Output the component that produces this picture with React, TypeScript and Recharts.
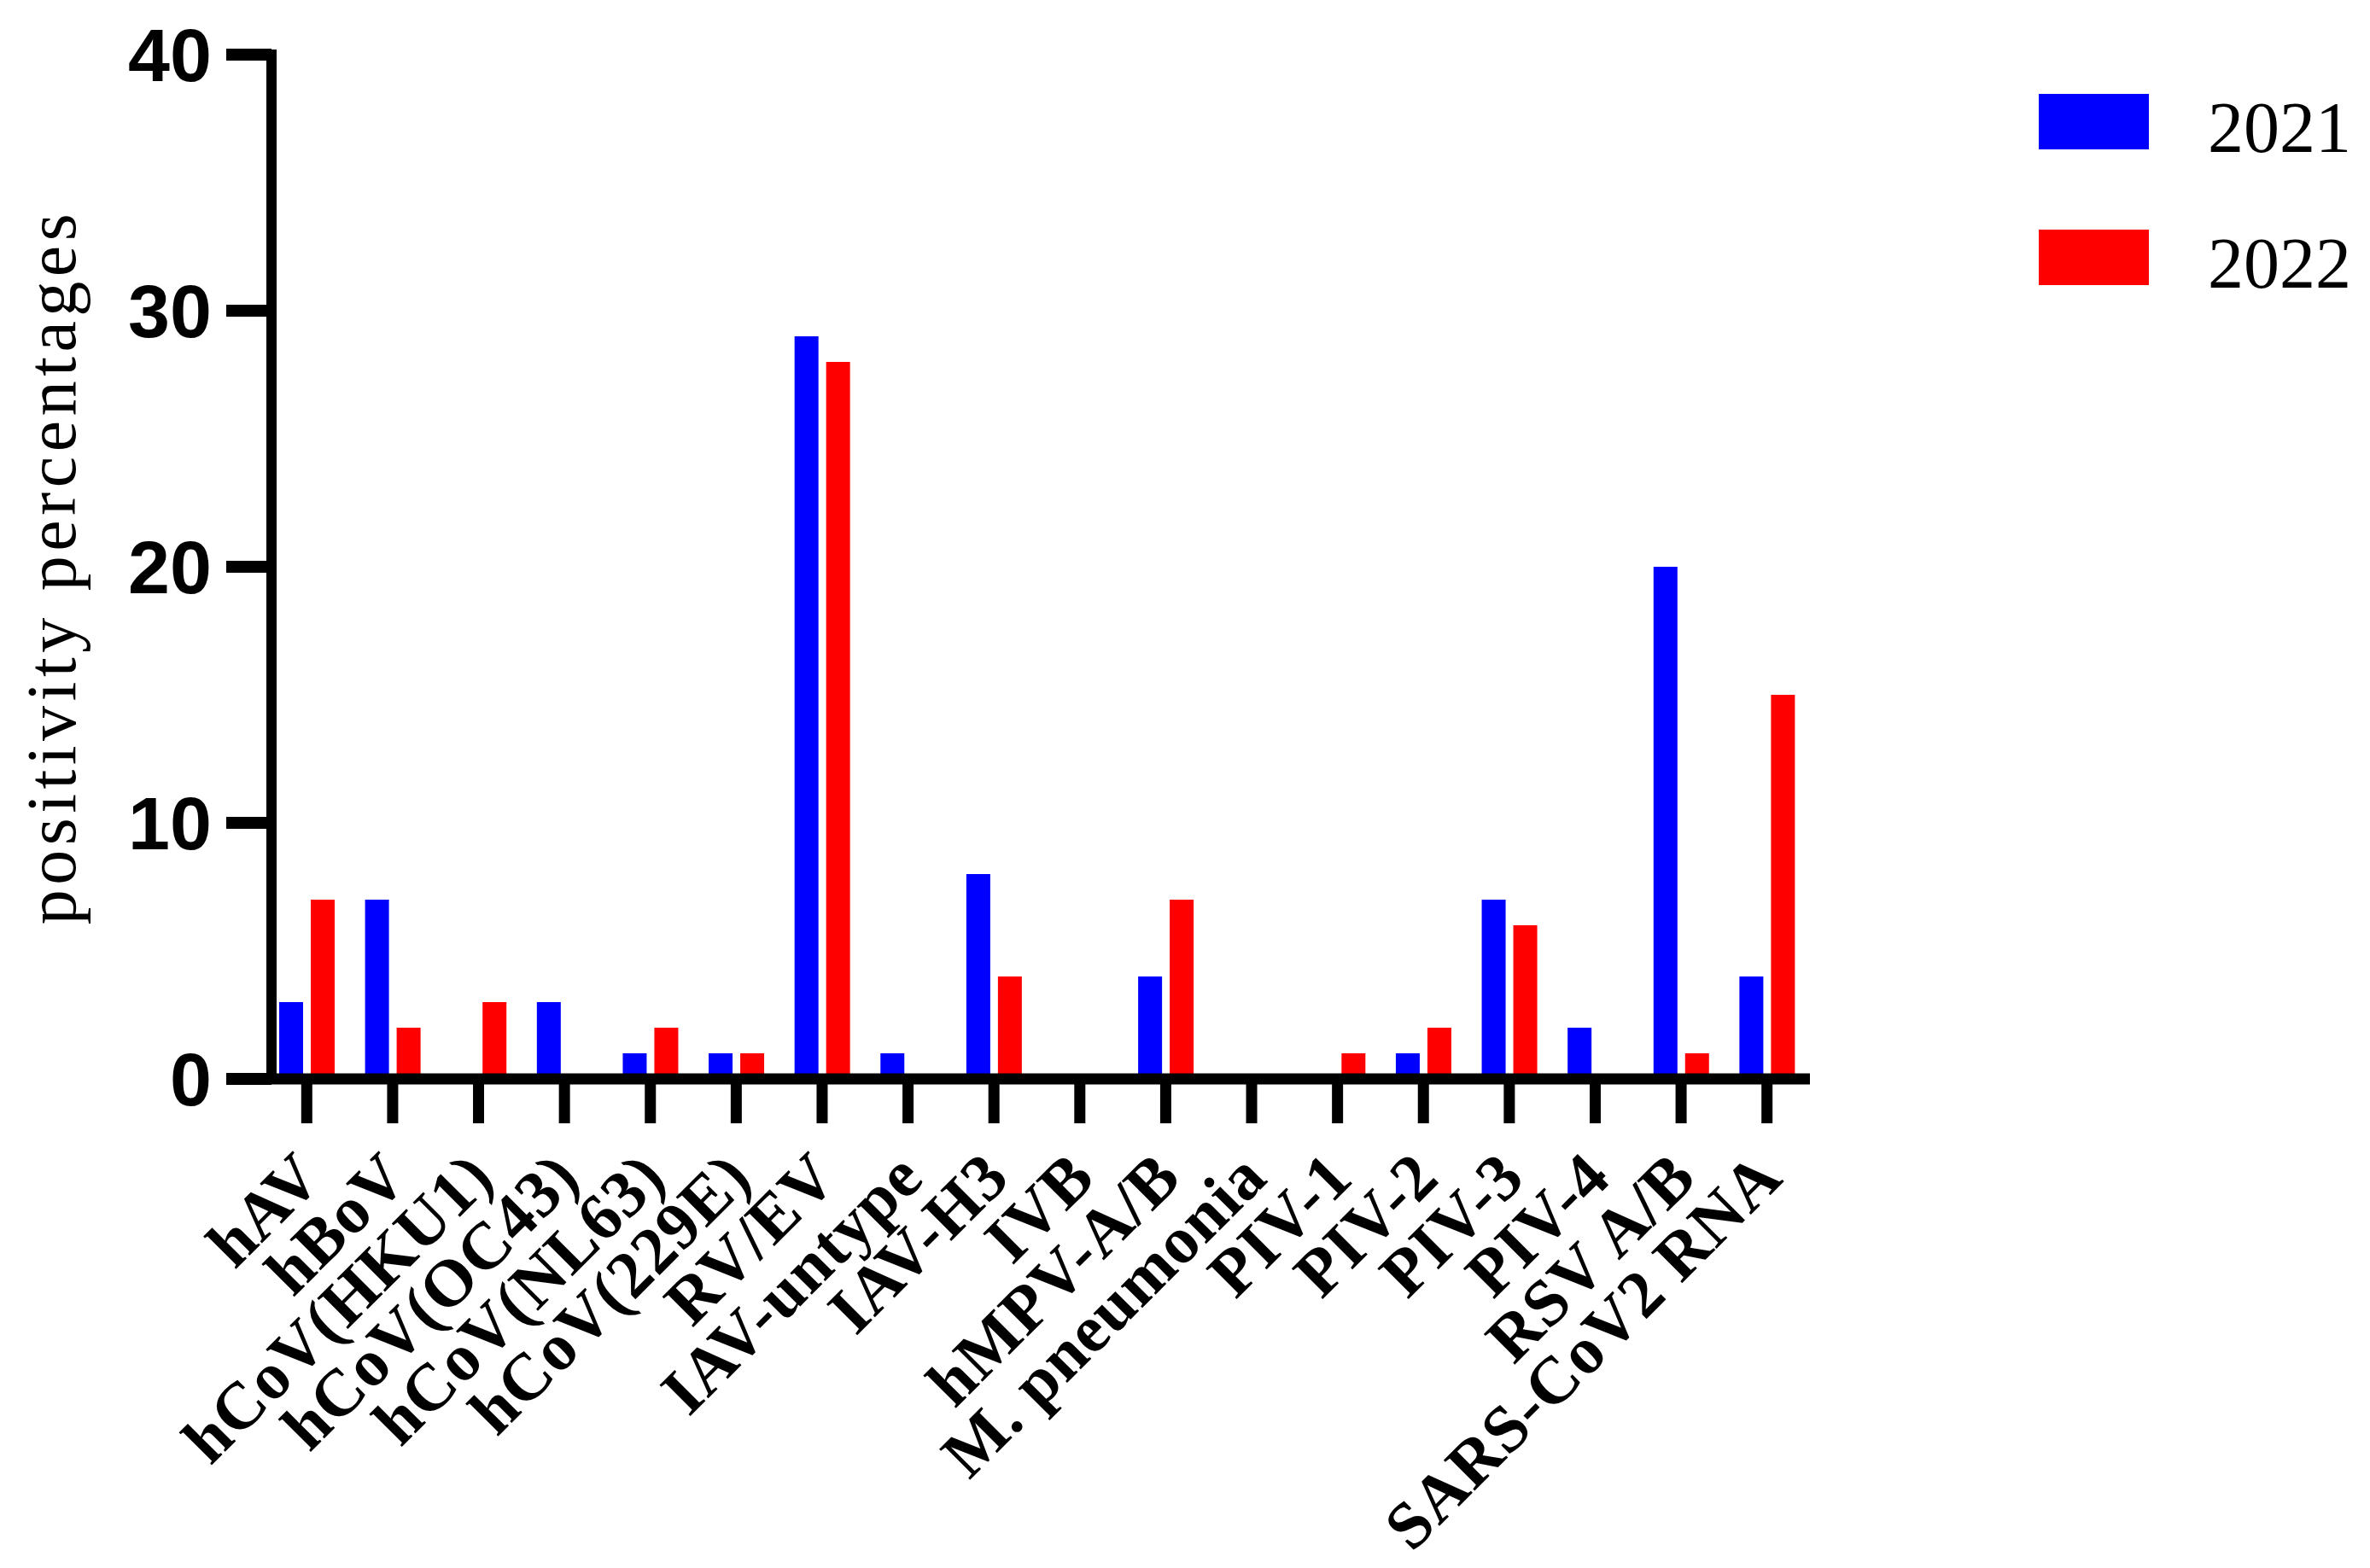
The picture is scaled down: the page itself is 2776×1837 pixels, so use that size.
import { Bar, BarChart, XAxis, YAxis, Legend } from "recharts"

const categories = [
  "hAV",
  "hBoV",
  "hCoV(HKU1)",
  "hCoV(OC43)",
  "hCoV(NL63)",
  "hCoV(229E)",
  "RV/EV",
  "IAV-untype",
  "IAV-H3",
  "IVB",
  "hMPV-A/B",
  "M. pneumonia",
  "PIV-1",
  "PIV-2",
  "PIV-3",
  "PIV-4",
  "RSV A/B",
  "SARS-CoV2 RNA",
]

const values2021 = [3, 7, 0, 3, 1, 1, 29, 1, 8, 0, 4, 0, 0, 1, 7, 2, 20, 4]
const values2022 = [7, 2, 3, 0, 2, 1, 28, 0, 4, 0, 7, 0, 1, 2, 6, 0, 1, 15]

const yTicks = [0, 10, 20, 30, 40]
const seriesNames = ["2021", "2022"]
const seriesColors = ["#0000ff", "#ff0000"]

const chartData = categories.map((name, i) => ({
  name,
  y2021: values2021[i],
  y2022: values2022[i],
}))

// rotated category labels, anchored at the end of the text
function CategoryTick(props: any) {
  const { x, y, payload } = props
  return (
    <text
      transform={`translate(${x + 21},${y + 67}) rotate(-45)`}
      textAnchor="end"
      fontFamily="'Liberation Serif', 'Times New Roman', serif"
      fontWeight="bold"
      fontSize={78}
      letterSpacing={1}
      fill="#000"
    >
      {payload.value}
    </text>
  )
}

function renderYLabel() {
  return (
    <text
      transform="translate(88,664) rotate(-90)"
      textAnchor="middle"
      fontFamily="'Liberation Serif', 'Times New Roman', serif"
      fontSize={82}
      letterSpacing={5.5}
      fill="#000"
    >
      positivity percentages
    </text>
  )
}

function LegendBox(props: any) {
  const payload = props.payload || []
  return (
    <svg width={388} height={260}>
      {payload.map((entry: any, i: number) => (
        <g key={entry.value}>
          <rect x={0} y={i * 159} width={129} height={65} fill={entry.color} />
          <text
            x={198}
            y={i * 159 + 68}
            fontFamily="'Liberation Serif', 'Times New Roman', serif"
            fontSize={84}
            fill="#000"
          >
            {entry.value}
          </text>
        </g>
      ))}
    </svg>
  )
}

export default function App() {
  return (
    <div style={{ position: "absolute", left: 0, top: 0, background: "#fff" }}>
      <BarChart
        width={2776}
        height={1837}
        data={chartData}
        margin={{ top: 64, right: 656, bottom: 0, left: 0 }}
        barGap={9}
      >
        <XAxis
          dataKey="name"
          height={573}
          interval={0}
          tickSize={52}
          tickMargin={0}
          padding={{ left: -9, right: 0 }}
          axisLine={{ stroke: "#000", strokeWidth: 13 }}
          tickLine={{ stroke: "#000", strokeWidth: 13 }}
          tick={<CategoryTick />}
        />
        <YAxis
          width={318}
          type="number"
          domain={[0, 40]}
          ticks={yTicks}
          tickSize={53}
          tickMargin={17}
          axisLine={{ stroke: "#000", strokeWidth: 12, strokeLinecap: "square" }}
          tickLine={{ stroke: "#000", strokeWidth: 14 }}
          tick={{
            fill: "#000",
            fontSize: 88,
            fontWeight: "bold",
            fontFamily: "'Liberation Sans', Arial, sans-serif",
          }}
          label={{ content: renderYLabel }}
        />
        <Legend
          layout="vertical"
          align="center"
          verticalAlign="middle"
          wrapperStyle={{ left: 2388, top: 110, width: 388, height: 260 }}
          content={<LegendBox />}
        />
        <Bar
          dataKey="y2021"
          name={seriesNames[0]}
          fill={seriesColors[0]}
          barSize={28}
          isAnimationActive={false}
        />
        <Bar
          dataKey="y2022"
          name={seriesNames[1]}
          fill={seriesColors[1]}
          barSize={28}
          isAnimationActive={false}
        />
      </BarChart>
    </div>
  )
}
